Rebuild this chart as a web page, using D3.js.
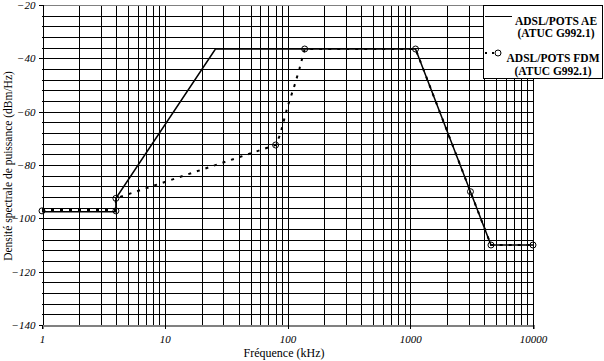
<!DOCTYPE html>
<html><head><meta charset="utf-8">
<script src="https://cdn.jsdelivr.net/npm/d3@7/dist/d3.min.js"></script>
<style>
html,body{margin:0;padding:0;background:#fff;}
svg{display:block;}
text{font-family:"Liberation Serif","Times New Roman",serif;fill:#000;}
</style></head>
<body>
<svg id="chart" width="604" height="361"></svg>
<script>
// ---- data ----
const aeFreq = [1, 4, 4, 25.875, 1104, 3093, 4545, 10000];          // kHz
const aeDb   = [-97.5, -97.5, -92.5, -36.5, -36.5, -90, -110, -110]; // dBm/Hz
const fdmFreq = [1, 4, 4, 80, 87, 100, 113, 125, 138, 1104, 3093, 4545, 10000];
const fdmDb   = [-96.9, -96.9, -92.5, -72.5, -68.7, -58.2, -50.8, -44, -36.5, -36.5, -90, -110, -110];
const fdmMarkerFreq = [1, 4, 4, 80, 138, 1104, 3093, 4545, 10000];
const fdmMarkerDb   = [-97.2, -97.2, -92.5, -72.5, -36.5, -36.5, -90, -110, -110];
const yTicks = [-140, -120, -100, -80, -60, -40, -20];
const xTicks = [1, 10, 100, 1000, 10000];
const seriesNames = [["ADSL/POTS AE", "(ATUC G992.1)"], ["ADSL/POTS FDM", "(ATUC G992.1)"]];
const xTitle = "Fréquence (kHz)";
const yTitle = "Densité spectrale de puissance (dBm/Hz)";

// ---- layout ----
const svg = d3.select("#chart");
const x = d3.scaleLog().domain([1, 10000]).range([42, 533]);
const y = d3.scaleLinear().domain([-140, -20]).range([325, 5]);
const c = v => Math.round(v) + 0.5;

// vertical grid (log minors)
const vGrid = [];
for (let d = 1; d < 10000; d *= 10) for (let m = 2; m <= 10; m++) vGrid.push(d * m);
svg.append("g").attr("shape-rendering", "crispEdges").selectAll("line").data(vGrid).join("line")
  .attr("x1", d => c(x(d))).attr("x2", d => c(x(d)))
  .attr("y1", y(-20)).attr("y2", y(-140))
  .attr("stroke", "#000").attr("stroke-width", 1);

// horizontal grid every 4 dB
const hGrid = d3.range(-136, -20, 4);
svg.append("g").attr("shape-rendering", "crispEdges").selectAll("line").data(hGrid).join("line")
  .attr("x1", x(1)).attr("x2", x(10000))
  .attr("y1", d => c(y(d))).attr("y2", d => c(y(d)))
  .attr("stroke", "#000").attr("stroke-width", 1);

// top border (gray)
svg.append("line").attr("x1", x(1)).attr("x2", x(10000))
  .attr("y1", c(y(-20))).attr("y2", c(y(-20))).attr("stroke", "#808080")
  .attr("shape-rendering", "crispEdges");

// y axis
const yAxis = svg.append("g").attr("transform", `translate(${c(x(1))},0)`)
  .call(d3.axisLeft(y).tickValues(yTicks).tickSize(4).tickPadding(3).tickFormat(d3.format("d")));
yAxis.attr("shape-rendering", "crispEdges");
yAxis.select(".domain").attr("stroke", "#000");
yAxis.selectAll(".tick line").attr("stroke", "#000");
yAxis.selectAll(".tick text")
  .style("font-family", "'Liberation Serif', serif").style("font-style", "italic").style("font-size", "11px");

// x axis
const xAxis = svg.append("g").attr("transform", `translate(0,${y(-140)})`)
  .call(d3.axisBottom(x).tickValues(xTicks).tickSize(4).tickPadding(6).tickFormat(d3.format("d")));
xAxis.attr("shape-rendering", "crispEdges");
xAxis.select(".domain").attr("stroke", "#808080").attr("stroke-width", 2);
xAxis.selectAll(".tick line").attr("stroke", "#000");
xAxis.selectAll(".tick text")
  .style("font-family", "'Liberation Serif', serif").style("font-style", "italic").style("font-size", "11px");

// series
const line = d3.line().x(d => x(d[0])).y(d => y(d[1]));
const aeData = aeFreq.map((f, i) => [f, aeDb[i]]);
const fdmData = fdmFreq.map((f, i) => [f, fdmDb[i]]);
svg.append("path").datum(aeData).attr("d", line)
  .attr("fill", "none").attr("stroke", "#000").attr("stroke-width", 1.5);
svg.append("path").datum(fdmData).attr("d", line)
  .attr("fill", "none").attr("stroke", "#000").attr("stroke-width", 2)
  .attr("stroke-dasharray", "3,6");
svg.append("g").selectAll("circle").data(fdmMarkerFreq.map((f, i) => [f, fdmMarkerDb[i]])).join("circle")
  .attr("cx", d => x(d[0])).attr("cy", d => y(d[1])).attr("r", 3)
  .attr("fill", "none").attr("stroke", "#000").attr("stroke-width", 1);

// legend
const lg = svg.append("g");
lg.append("rect").attr("x", 483.5).attr("y", 5.5).attr("width", 119).attr("height", 73)
  .attr("fill", "#fff").attr("stroke", "#000").attr("shape-rendering", "crispEdges");
lg.append("line").attr("x1", 485).attr("x2", 512).attr("y1", 16.5).attr("y2", 16.5)
  .attr("stroke", "#000").attr("stroke-width", 1);
lg.append("line").attr("x1", 485).attr("x2", 506).attr("y1", 53).attr("y2", 53)
  .attr("stroke", "#000").attr("stroke-width", 2).attr("stroke-dasharray", "2,5");
lg.append("circle").attr("cx", 498).attr("cy", 53).attr("r", 3)
  .attr("fill", "#fff").attr("stroke", "#000");
const lt = [[556, 25, 37], [553, 62, 75]];
seriesNames.forEach((n, i) => {
  lg.append("text").attr("x", lt[i][0]).attr("y", lt[i][1]).attr("text-anchor", "middle")
    .attr("font-size", 11.5).attr("font-weight", "bold").text(n[0]);
  lg.append("text").attr("x", lt[i][0]).attr("y", lt[i][2]).attr("text-anchor", "middle")
    .attr("font-size", 11.5).attr("font-weight", "bold").text(n[1]);
});

// titles
svg.append("text").attr("x", 284).attr("y", 357).attr("text-anchor", "middle")
  .attr("font-size", 12).text(xTitle);
svg.append("text").attr("transform", "translate(12,166) rotate(-90)").attr("text-anchor", "middle")
  .attr("font-size", 11.5).text(yTitle);
</script>
</body></html>
